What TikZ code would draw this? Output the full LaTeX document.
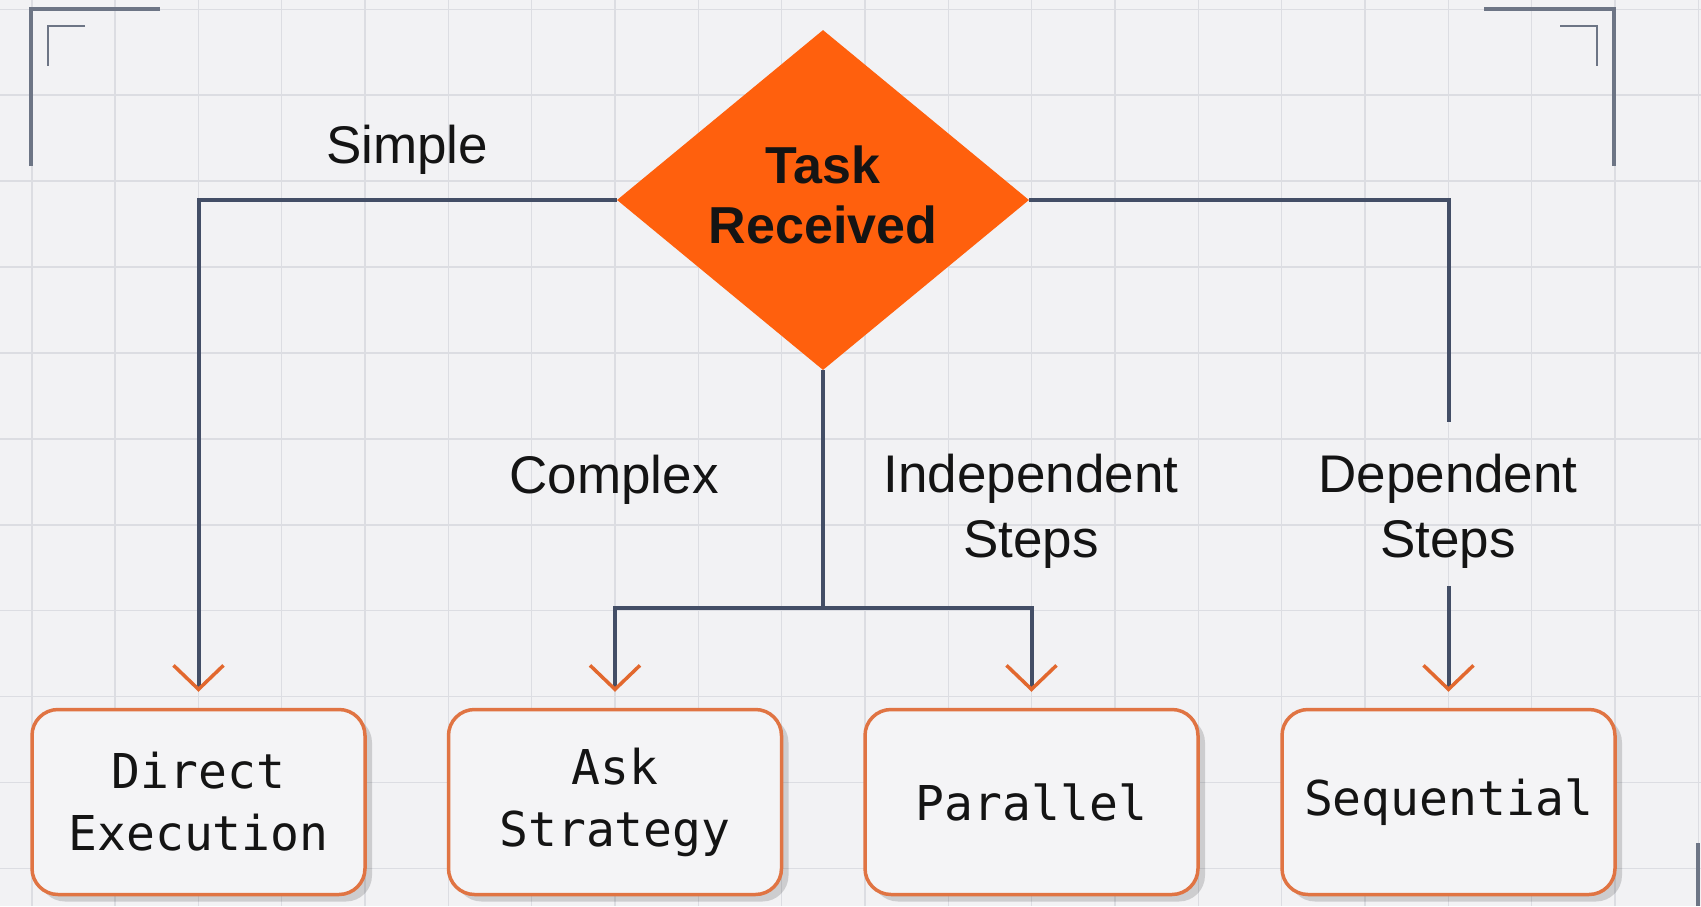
\documentclass[tikz,border=0pt]{standalone}
\usepackage{fontspec}
\setmainfont{Liberation Sans}
\newfontfamily\monof{DejaVu Sans Mono}
\usetikzlibrary{arrows.meta,shapes.geometric,shadows}
\definecolor{bgc}{HTML}{F2F2F4}
\definecolor{gridc}{HTML}{DCDDE2}
\definecolor{linec}{HTML}{434E66}
\definecolor{diamc}{HTML}{FF600D}
\definecolor{boxc}{HTML}{E07443}
\definecolor{arrc}{HTML}{E2682E}
\definecolor{boxfill}{HTML}{F4F4F6}
\definecolor{txtc}{HTML}{141414}
\definecolor{brk}{HTML}{6D7585}
\tikzset{
  decision/.style={diamond, aspect=1.21, minimum width=412pt, minimum height=340pt, inner sep=0pt,
    fill=diamc, align=center, text=txtc, font=\bfseries\fontsize{52}{60}\selectfont},
  stepbox/.style={rectangle, rounded corners=26pt, minimum width=333pt, minimum height=185pt,
    draw=boxc, line width=3.5pt, fill=boxfill, align=center, text=txtc,
    font=\monof\fontsize{48}{62}\selectfont,
    drop shadow={shadow xshift=7pt, shadow yshift=-7pt, fill=black, opacity=0.15}},
  lbl/.style={text=txtc, inner sep=0pt, font=\fontsize{53}{65}\selectfont},
  conn/.style={draw=linec, line width=4pt},
  arr/.style={-{Straight Barb[length=24pt,width=50pt,line width=3.5pt,color=arrc]}, shorten >=16pt},
  gridline/.style={draw=gridc, line width=1.6pt},
  bracket/.style={draw=brk, line width=3.2pt}
}
\begin{document}
\begin{tikzpicture}[x=1pt,y=-1pt]
\fill[bgc] (0,0) rectangle (1701,906);
\useasboundingbox (0,0) rectangle (1701,906);
\foreach \i in {0,...,20} \draw[gridline] ({31.7+83.33*\i},0) -- ({31.7+83.33*\i},906);
\foreach \j in {0,...,10} \draw[gridline] (0,{9.3+85.9*\j}) -- (1701,{9.3+85.9*\j});
% corner brackets
\draw[bracket] (160,9) -- (31,9) -- (31,166);
\draw[bracket, line width=2.5pt] (85,26) -- (48,26) -- (48,66);
\draw[bracket] (1484,9) -- (1614,9) -- (1614,166);
\draw[bracket, line width=2.5pt] (1560,26) -- (1597,26) -- (1597,66);
\draw[bracket] (1698,843) -- (1698,906);
% nodes
\node[decision] (task) at (823,200) {Task\\Received\rule[-10pt]{0pt}{10pt}};
\node[stepbox] (direct) at (198.5,802) {Direct\\Execution};
\node[stepbox] (ask) at (615,802) {Ask\\Strategy};
\node[stepbox] (par) at (1031.5,802) {Parallel};
\node[stepbox] (seq) at (1448.5,802) {Sequential};
% connectors
\coordinate (split) at (823,608);
\coordinate (gapA) at (1448.5,422);
\coordinate (gapB) at (1448.5,586);
\draw[conn,arr] (task.west) -| (direct.north);
\draw[conn] (task.south) -- (split);
\draw[conn,arr] (split) -| (ask.north);
\draw[conn,arr] (split) -| (par.north);
\draw[conn] (task.east) -| (gapA);
\draw[conn,arr] (gapB) -- (seq.north);
% labels
\node[lbl, anchor=base] (simple) at (407,163) {Simple};
\node[lbl, anchor=base] (complex) at (614,493) {Complex};
\node[lbl, align=center] (indep) at (1031,511) {Independent\\Steps};
\node[lbl, align=center] (dep) at (1448,511) {Dependent\\Steps};
\end{tikzpicture}
\end{document}
